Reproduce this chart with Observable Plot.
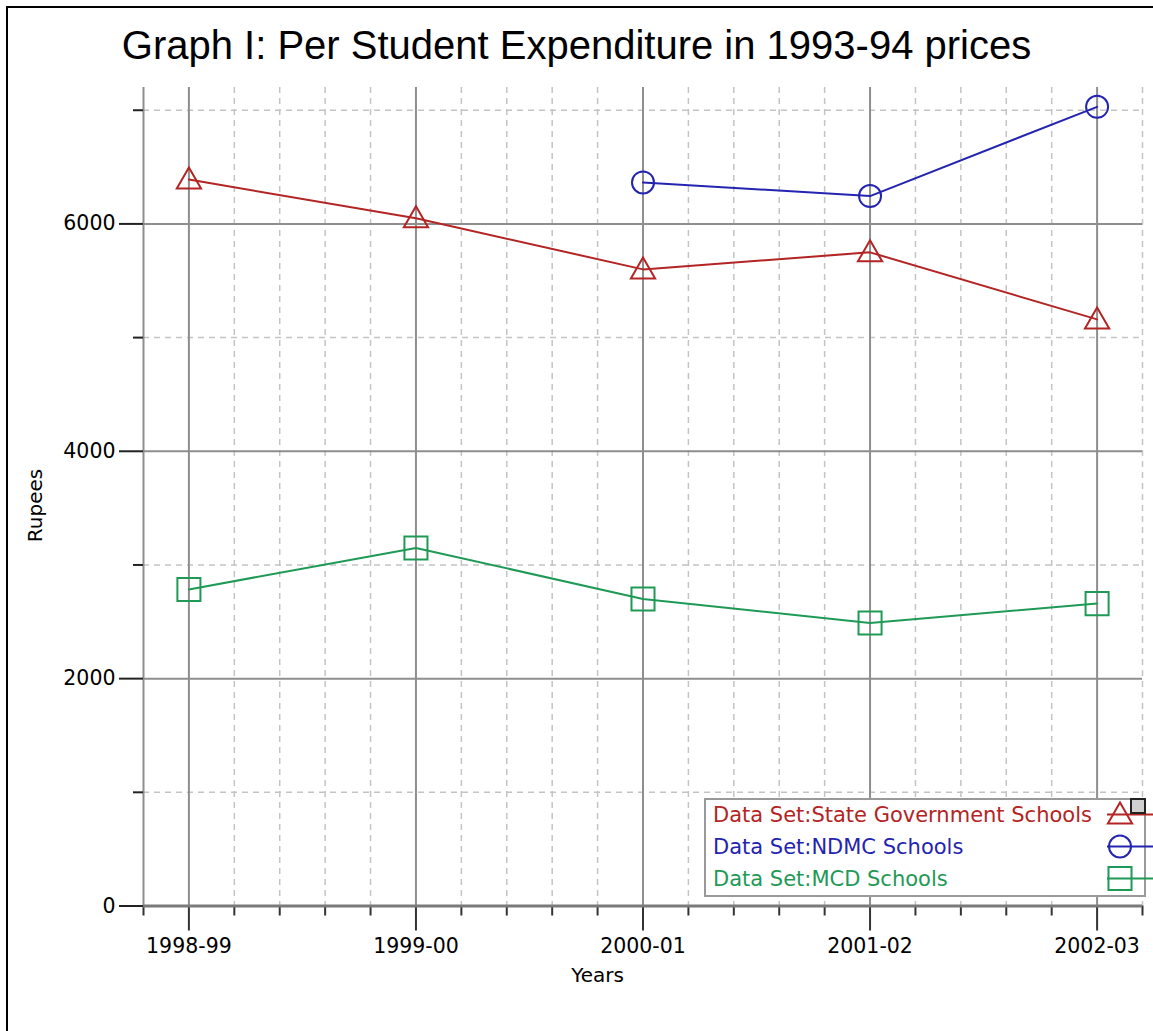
<!DOCTYPE html>
<html><head><meta charset="utf-8">
<script src="https://cdn.jsdelivr.net/npm/d3@7"></script>
<script src="https://cdn.jsdelivr.net/npm/@observablehq/plot@0.6"></script>
<style>
body{margin:0;background:#fff;}
#wrap{position:relative;width:1153px;height:1031px;overflow:hidden;font-family:"DejaVu Sans",sans-serif;background:#fff;}
#frame{position:absolute;left:6px;top:6px;right:-10px;bottom:-10px;border-left:2px solid #000;border-top:2px solid #000;pointer-events:none;}
#title{height:80px;box-sizing:border-box;padding-top:25px;font:40px/40px "Liberation Sans",Arial,sans-serif;text-align:center;color:#000;white-space:nowrap;}
#chart svg{display:block;}
#legend{position:absolute;left:704px;top:798px;}
</style></head><body>
<div id="wrap"><div id="title"></div><div id="chart"></div><div id="legend"></div><div id="frame"></div></div>
<script>
const titleText = "Graph I: Per Student Expenditure in 1993-94 prices";
const xLabel = "Years";
const yLabel = "Rupees";
const years = ["1998-99", "1999-00", "2000-01", "2001-02", "2002-03"];
const seriesNames = ["State Government Schools", "NDMC Schools", "MCD Schools"];
const stateValues = [6390, 6050, 5600, 5750, 5160];
const ndmcValues = [null, null, 6365, 6245, 7030];
const mcdValues = [2785, 3150, 2700, 2490, 2660];
const seriesColors = ["#b32424", "#2424b0", "#1e9a56"];
const seriesSymbols = ["triangle", "circle", "square"];
const yMajorTicks = [0, 2000, 4000, 6000];
const yMinorTicks = [1000, 3000, 5000, 7000];
const yMax = 7200;

document.getElementById("title").textContent = titleText;

const allValues = [stateValues, ndmcValues, mcdValues];
const rows = [];
allValues.forEach((vals, s) => vals.forEach((v, i) => {
  if (v != null) rows.push({s, series: seriesNames[s], i, value: v});
}));

const xMin = -0.2, xMax = years.length - 1 + 0.2;
const minorAll = d3.range(Math.round(xMin * 5), Math.round(xMax * 5) + 1).map(k => k / 5);
const isInt = v => Math.abs(v - Math.round(v)) < 1e-9;
const minorXticks = minorAll.filter(v => !isInt(v));
const minorXgrid = minorXticks.filter(v => v > xMin + 1e-9);
const majorX = years.map((_, i) => i);
const markerR = [9, 11, 13];

const chart = Plot.plot({
  width: 1153, height: 951,
  marginTop: 7, marginBottom: 125.5, marginLeft: 143, marginRight: 11,
  style: {fontFamily: "DejaVu Sans", fontSize: "20.5px", color: "#000", background: "transparent"},
  x: {domain: [xMin, xMax]},
  y: {domain: [0, yMax]},
  marks: [
    Plot.ruleX(minorXgrid, {stroke: "#c4c4c4", strokeWidth: 1.5, strokeDasharray: "6,5"}),
    Plot.ruleY(yMinorTicks, {stroke: "#c4c4c4", strokeWidth: 1.5, strokeDasharray: "6,5"}),
    Plot.ruleY(yMajorTicks.filter(v => v > 0), {stroke: "#8e8e8e", strokeWidth: 2}),
    Plot.ruleX([xMin, ...majorX], {stroke: "#8e8e8e", strokeWidth: 2}),
    Plot.axisY(yMinorTicks, {tickSize: 10, tickFormat: () => "", stroke: "#222", strokeWidth: 2, label: null}),
    Plot.axisY(yMajorTicks, {tickSize: 24, tickPadding: 4, tickFormat: d => String(d), stroke: "#222", strokeWidth: 2, label: null}),
    Plot.axisX(minorXticks, {tickSize: 10, tickFormat: () => "", stroke: "#333", strokeWidth: 2, label: null}),
    Plot.axisX(majorX, {tickSize: 25, tickPadding: 7.5, tickFormat: i => years[i], stroke: "#333", strokeWidth: 2, label: null}),
    Plot.ruleY([0], {stroke: "#7a7a7a", strokeWidth: 3}),
    ...seriesNames.map((name, s) => Plot.line(rows.filter(r => r.s === s), {x: "i", y: "value", stroke: seriesColors[s], strokeWidth: 2})),
    ...seriesNames.map((name, s) => Plot.dot(rows.filter(r => r.s === s), {x: "i", y: "value", symbol: seriesSymbols[s], r: markerR[s], stroke: seriesColors[s], strokeWidth: 2, fill: "none", dy: s === 0 ? 2 : 0})),
    Plot.text([xLabel], {text: d => d, frameAnchor: "bottom-left", dx: 454, dy: 69.5, fontSize: 20, textAnchor: "middle", lineAnchor: "middle", fill: "#000"}),
    Plot.text([yLabel], {text: d => d, frameAnchor: "left", dx: -108, dy: 8.75, rotate: -90, fontSize: 20, textAnchor: "middle", lineAnchor: "middle", fill: "#000"})
  ]
});
document.getElementById("chart").appendChild(chart);

// legend
const lg = d3.select("#legend").append("svg").attr("width", 449).attr("height", 100).style("display", "block");
lg.append("rect").attr("x", 1).attr("y", 1).attr("width", 440).attr("height", 97)
  .attr("fill", "#fff").attr("stroke", "#999").attr("stroke-width", 2);
const rowY = [16.5, 48.5, 80.5];
seriesNames.forEach((name, s) => {
  const g = lg.append("g");
  g.append("text").attr("x", 9).attr("y", rowY[s]).attr("dy", "0.36em")
    .attr("fill", seriesColors[s]).attr("font-family", "DejaVu Sans").attr("font-size", 21)
    .text("Data Set:" + name);
  g.append("line").attr("x1", 403).attr("x2", 449).attr("y1", rowY[s]).attr("y2", rowY[s])
    .attr("stroke", seriesColors[s]).attr("stroke-width", 2);
  const sym = {triangle: d3.symbolTriangle, circle: d3.symbolCircle, square: d3.symbolSquare}[seriesSymbols[s]];
  g.append("path").attr("d", d3.symbol(sym, Math.PI * markerR[s] * markerR[s])())
    .attr("transform", `translate(416,${rowY[s] + (s === 0 ? 2 : 0)})`)
    .attr("fill", "none").attr("stroke", seriesColors[s]).attr("stroke-width", 2);
});
lg.append("rect").attr("x", 427).attr("y", 1).attr("width", 14).attr("height", 14)
  .attr("fill", "#cfcfcf").attr("stroke", "#222").attr("stroke-width", 2);
</script>
</body></html>
